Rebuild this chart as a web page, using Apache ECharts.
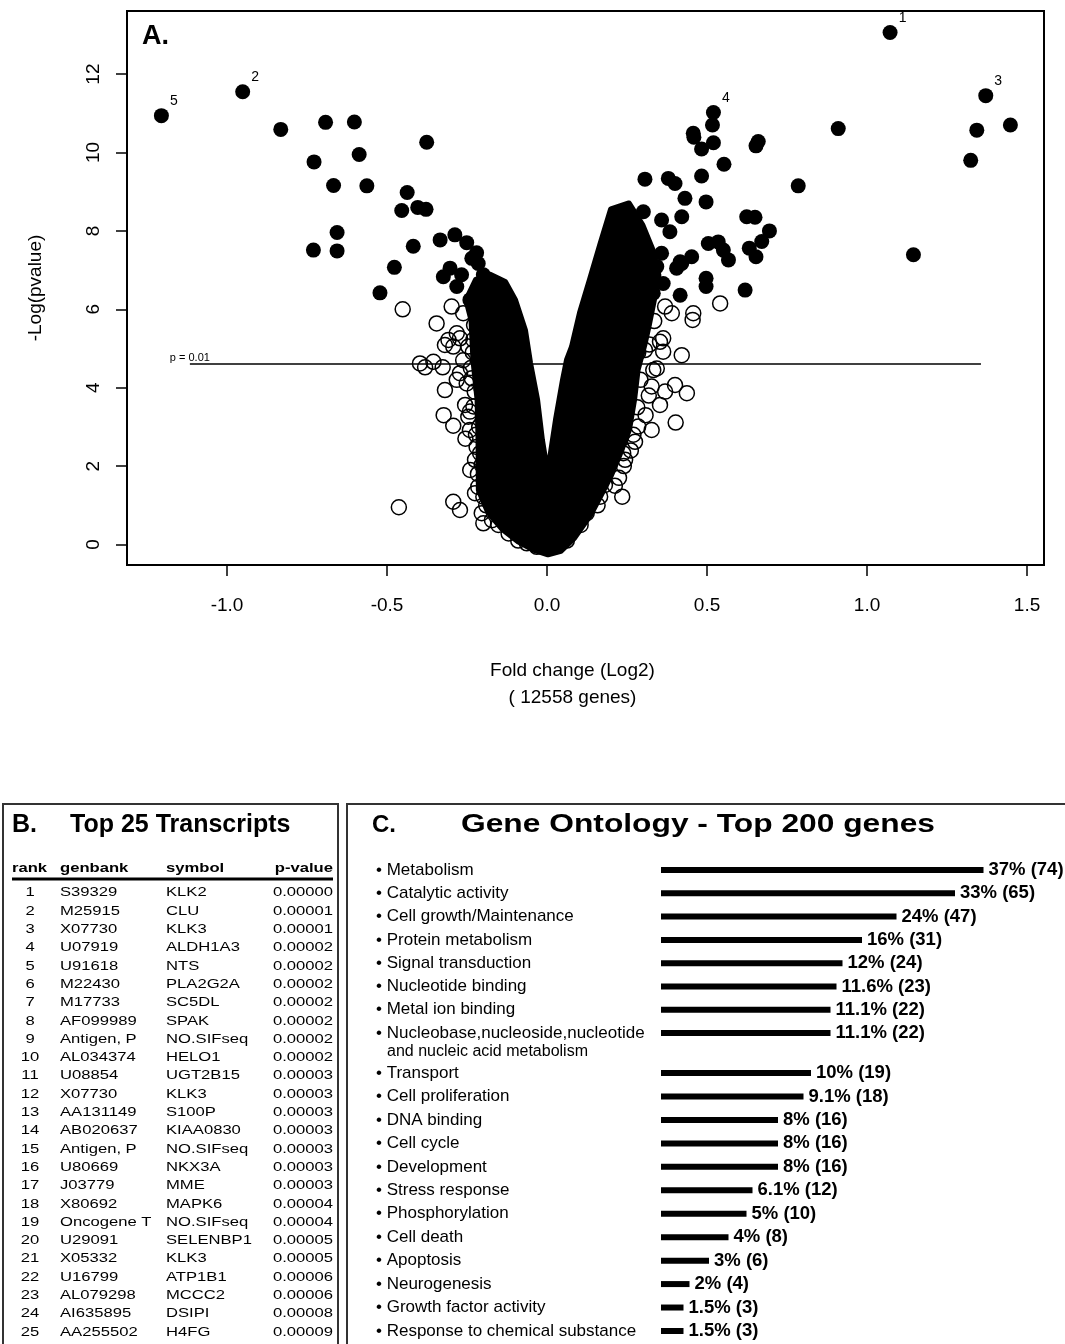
<!DOCTYPE html>
<html>
<head>
<meta charset="utf-8">
<script src="https://cdn.jsdelivr.net/npm/echarts@6/dist/echarts.min.js"></script>
<style>
  html, body { margin: 0; padding: 0; background: #fff; }
  #chart { width: 1065px; height: 1344px; }
</style>
</head>
<body>
<div id="chart"></div>
<script>
// ---- Panel A: volcano plot (log2 fold change vs -ln p) ----
// genes with p < 0.01 (filled)
const sigPoints = [
  [-0.832, 10.59], [-0.692, 10.77], [-0.602, 10.78], [-0.376, 10.26], [-0.728, 9.76], [-0.587, 9.95],
  [-0.667, 9.16], [-0.563, 9.15], [-0.437, 8.98], [-0.454, 8.52], [-0.404, 8.60], [-0.378, 8.55],
  [-0.656, 7.96], [-0.730, 7.51], [-0.656, 7.49], [-0.418, 7.61], [-0.477, 7.07], [-0.522, 6.42],
  [-0.334, 7.77], [-0.288, 7.90], [-0.251, 7.70], [-0.220, 7.44], [-0.235, 7.30], [-0.215, 7.17],
  [-0.199, 6.88], [-0.157, 6.66], [-0.147, 6.58], [-0.303, 7.05], [-0.324, 6.83], [-0.267, 6.88],
  [-0.282, 6.58], [-0.241, 6.24], [-0.209, 6.07], [-0.230, 6.19], [-0.180, 6.50], [-0.160, 6.30],
  [1.343, 10.57], [1.448, 10.70], [1.324, 9.80], [0.910, 10.61], [0.785, 9.15], [1.145, 7.39],
  [0.517, 10.70], [0.457, 10.49], [0.459, 10.39], [0.520, 10.25], [0.483, 10.09], [0.660, 10.28],
  [0.653, 10.17], [0.553, 9.70], [0.306, 9.32], [0.379, 9.34], [0.400, 9.21], [0.483, 9.40],
  [0.431, 8.83], [0.497, 8.74], [0.421, 8.36], [0.624, 8.36], [0.650, 8.35], [0.695, 8.00],
  [0.671, 7.73], [0.632, 7.56], [0.653, 7.34], [0.504, 7.68], [0.535, 7.72], [0.551, 7.51],
  [0.567, 7.26], [0.452, 7.34], [0.416, 7.21], [0.405, 7.05], [0.497, 6.79], [0.497, 6.58],
  [0.619, 6.49], [0.358, 7.43], [0.300, 7.56], [0.238, 8.28], [0.301, 8.49], [0.358, 8.28],
  [0.384, 7.98], [0.270, 7.94], [0.306, 7.51], [0.228, 7.68], [0.207, 7.34], [0.176, 7.09],
  [0.343, 7.09], [0.421, 7.17], [0.363, 6.66], [0.416, 6.36], [0.332, 6.41]
];
// top ranked genes marked with their rank
const rankedPoints = [
  [1.072, 13.06, '1'], [-0.951, 11.55, '2'], [1.371, 11.45, '3'], [0.520, 11.02, '4'], [-1.205, 10.94, '5']
];
// open circles visible around the edge of the dense cloud
const edgePoints = [
  [-0.451, 6.00], [-0.345, 5.64], [-0.298, 6.07], [-0.262, 5.90], [-0.308, 5.22], [-0.282, 5.39],
  [-0.272, 5.26], [-0.319, 5.09], [-0.293, 5.05], [-0.246, 5.05], [-0.230, 5.22], [-0.397, 4.62],
  [-0.355, 4.66], [-0.381, 4.52], [-0.326, 4.52], [-0.272, 4.37], [-0.282, 4.20], [-0.319, 3.94],
  [-0.251, 4.11], [-0.235, 4.24], [-0.256, 3.56], [-0.241, 3.39], [-0.230, 3.52], [-0.246, 3.26],
  [-0.323, 3.30], [-0.293, 3.03], [-0.241, 2.92], [-0.220, 2.49], [-0.225, 2.16], [-0.204, 2.03],
  [-0.209, 2.33], [-0.215, 1.47], [-0.225, 1.31], [-0.199, 1.22], [-0.293, 1.09], [-0.272, 0.88],
  [-0.463, 0.95], [-0.204, 0.80], [-0.199, 0.54], [-0.152, 0.50], [-0.063, 0.03], [-0.032, -0.06],
  [-0.228, 5.60], [-0.232, 4.90], [-0.226, 3.90], [-0.222, 2.80], [-0.216, 1.80], [-0.190, 1.00],
  [-0.172, 0.62], [-0.120, 0.28], [-0.090, 0.10], [-0.262, 4.70], [-0.255, 2.70], [-0.240, 1.90],
  [-0.238, 4.50], [-0.212, 3.00], [-0.205, 4.00],
  [0.541, 6.15], [0.457, 5.90], [0.455, 5.73], [0.390, 5.90], [0.369, 6.07], [0.363, 5.26],
  [0.353, 5.17], [0.421, 4.83], [0.363, 4.92], [0.332, 4.45], [0.343, 4.49], [0.400, 4.07],
  [0.437, 3.86], [0.369, 3.90], [0.353, 3.56], [0.327, 4.03], [0.402, 3.11], [0.327, 2.92],
  [0.285, 3.01], [0.275, 2.62], [0.244, 2.16], [0.238, 2.33], [0.235, 1.22], [0.166, 1.22],
  [0.181, 1.52], [0.124, 0.80], [0.291, 5.34], [0.306, 4.96], [0.300, 5.60],
  [0.285, 4.90], [0.292, 4.20], [0.282, 3.50], [0.270, 2.80], [0.240, 2.00], [0.212, 1.50],
  [0.158, 1.00], [0.105, 0.50], [0.062, 0.10], [0.318, 3.80], [0.308, 3.30], [0.225, 1.70],
  [0.320, 5.10], [0.335, 5.70], [0.262, 2.40]
];
// outline of the solid black core where thousands of points overlap
const coreOutline = [
  [-0.252, 6.24], [-0.236, 5.73], [-0.230, 4.71], [-0.217, 3.69], [-0.214, 2.67], [-0.213, 1.39],
  [-0.184, 0.83], [-0.140, 0.40], [-0.090, 0.08], [-0.040, -0.14], [0.003, -0.25], [0.043, -0.16],
  [0.085, 0.17], [0.135, 0.75], [0.168, 1.26], [0.200, 1.77], [0.226, 2.28], [0.256, 2.92],
  [0.272, 3.69], [0.283, 4.45], [0.304, 5.09], [0.318, 5.60], [0.334, 6.24], [0.348, 6.87],
  [0.330, 7.51], [0.298, 8.15], [0.256, 8.70], [0.200, 8.55], [0.166, 7.64], [0.134, 6.75],
  [0.103, 5.91], [0.078, 5.04], [0.0625, 4.71], [0.050, 4.20], [0.028, 3.18], [0.009, 2.16],
  [0.003, 1.72], [-0.016, 2.67], [-0.031, 3.69], [-0.053, 4.63], [-0.069, 5.47], [-0.100, 6.24],
  [-0.131, 6.70], [-0.178, 6.88], [-0.222, 6.75]
];
const xTicks = [-1, -0.5, 0, 0.5, 1, 1.5];
const yTicks = [0, 2, 4, 6, 8, 10, 12];
const pCutoff = 0.01;
const cutoffSpan = [-1.116, 1.356];
const geneCount = 12558;

// ---- Panel B: top 25 transcripts ----
const genbank = ['S39329', 'M25915', 'X07730', 'U07919', 'U91618', 'M22430', 'M17733', 'AF099989',
  'Antigen, P', 'AL034374', 'U08854', 'X07730', 'AA131149', 'AB020637', 'Antigen, P', 'U80669',
  'J03779', 'X80692', 'Oncogene T', 'U29091', 'X05332', 'U16799', 'AL079298', 'AI635895', 'AA255502'];
const symbols = ['KLK2', 'CLU', 'KLK3', 'ALDH1A3', 'NTS', 'PLA2G2A', 'SC5DL', 'SPAK', 'NO.SIFseq',
  'HELO1', 'UGT2B15', 'KLK3', 'S100P', 'KIAA0830', 'NO.SIFseq', 'NKX3A', 'MME', 'MAPK6', 'NO.SIFseq',
  'SELENBP1', 'KLK3', 'ATP1B1', 'MCCC2', 'DSIPI', 'H4FG'];
const pValues = ['0.00000', '0.00001', '0.00001', '0.00002', '0.00002', '0.00002', '0.00002', '0.00002',
  '0.00002', '0.00002', '0.00003', '0.00003', '0.00003', '0.00003', '0.00003', '0.00003', '0.00003',
  '0.00004', '0.00004', '0.00005', '0.00005', '0.00006', '0.00006', '0.00008', '0.00009'];
const tableHeader = ['rank', 'genbank', 'symbol', 'p-value'];

// ---- Panel C: gene ontology of top 200 genes ----
const goTerms = ['Metabolism', 'Catalytic activity', 'Cell growth/Maintenance', 'Protein metabolism',
  'Signal transduction', 'Nucleotide binding', 'Metal ion binding',
  'Nucleobase,nucleoside,nucleotide\nand nucleic acid metabolism',
  'Transport', 'Cell proliferation', 'DNA binding', 'Cell cycle', 'Development', 'Stress response',
  'Phosphorylation', 'Cell death', 'Apoptosis', 'Neurogenesis', 'Growth factor activity',
  'Response to chemical substance'];
const goPercent = ['37%', '33%', '24%', '16%', '12%', '11.6%', '11.1%', '11.1%', '10%', '9.1%', '8%', '8%',
  '8%', '6.1%', '5%', '4%', '3%', '2%', '1.5%', '1.5%'];
const goCount = [74, 65, 47, 31, 24, 23, 22, 22, 19, 18, 16, 16, 16, 12, 10, 8, 6, 4, 3, 3];
// bar lengths as drawn in the figure (percent scale, compressed for the longest bars)
const goBarLength = [21.5, 19.6, 15.7, 13.4, 12.1, 11.7, 11.3, 11.3, 10.0, 9.5, 7.8, 7.8, 7.8, 6.1,
  5.7, 4.5, 3.2, 1.9, 1.5, 1.5];

const FONT = 'Liberation Sans, Arial, Helvetica, sans-serif';
const chart = echarts.init(document.getElementById('chart'), null, { renderer: 'canvas' });

const cutoffY = -Math.log(pCutoff);

// graphic pieces for the panel frames and the table
const graphics = [];
function text(x, y, str, o) {
  o = o || {};
  return {
    type: 'text', x: x, y: y, scaleX: o.scaleX || 1, z: 10,
    style: {
      text: str, fill: '#000', fontFamily: FONT, fontSize: o.size || 12.5,
      fontWeight: o.weight || 'normal', align: o.align || 'left', verticalAlign: 'middle',
      textAlign: o.align || 'left', textVerticalAlign: 'middle'
    }
  };
}
graphics.push(text(142, 37, 'A.', { size: 27, weight: 'bold' }));
graphics.push({ type: 'rect', shape: { x: 3, y: 804, width: 335, height: 620 }, style: { fill: 'none', stroke: '#333', lineWidth: 2 } });
graphics.push({ type: 'rect', shape: { x: 347, y: 804, width: 760, height: 620 }, style: { fill: 'none', stroke: '#333', lineWidth: 2 } });
graphics.push(text(12, 825, 'B.', { size: 25, weight: 'bold' }));
graphics.push(text(70, 825, 'Top 25 Transcripts', { size: 25, weight: 'bold' }));
graphics.push(text(372, 825, 'C.', { size: 24, weight: 'bold' }));
graphics.push(text(461, 825, 'Gene Ontology - Top 200 genes', { size: 25, weight: 'bold', scaleX: 1.27 }));

const colX = [12, 60, 166, 333];
const colAlign = ['left', 'left', 'left', 'right'];
tableHeader.forEach((h, i) => {
  graphics.push(text(colX[i], 869, h, { weight: 'bold', align: colAlign[i], scaleX: 1.33 }));
});
graphics.push({ type: 'rect', shape: { x: 12, y: 877.5, width: 321, height: 3 }, style: { fill: '#000' } });
genbank.forEach((gb, i) => {
  const y = 893 + i * 18.3;
  graphics.push(text(30, y, String(i + 1), { align: 'center', scaleX: 1.33 }));
  graphics.push(text(colX[1], y, gb, { scaleX: 1.33 }));
  graphics.push(text(colX[2], y, symbols[i], { scaleX: 1.33 }));
  graphics.push(text(colX[3], y, pValues[i], { align: 'right', scaleX: 1.33 }));
});

const catLabel = {
  align: 'left', margin: 285, interval: 0,
  formatter: (v) => {
    const parts = v.split('\n');
    if (parts.length > 1) return '{g|}\n{m|\u2022 ' + parts[0] + '}\n{s|' + parts[1] + '}';
    return '{m|\u2022 ' + v + '}';
  },
  rich: {
    m: { fontSize: 17, lineHeight: 20, fontFamily: FONT, color: '#000' },
    s: { fontSize: 16, lineHeight: 17, fontFamily: FONT, color: '#000', padding: [0, 0, 0, 11] },
    g: { fontSize: 1, lineHeight: 17 }
  }
};
function goBars(from, to, axisIdx) {
  return {
    type: 'bar', xAxisIndex: axisIdx, yAxisIndex: axisIdx,
    data: goBarLength.slice(from, to), barWidth: 6,
    itemStyle: { color: '#000' },
    label: {
      show: true, position: 'right', distance: 5, color: '#000', fontFamily: FONT,
      fontSize: 18.5, fontWeight: 'bold',
      formatter: (p) => goPercent[from + p.dataIndex] + ' (' + goCount[from + p.dataIndex] + ')'
    },
    animation: false
  };
}

const option = {
  backgroundColor: '#fff',
  animation: false,
  textStyle: { fontFamily: FONT },
  graphic: graphics,
  grid: [
    { left: 127, top: 11, width: 917, height: 554, show: true, borderColor: '#000', borderWidth: 2, backgroundColor: 'transparent', outerBoundsMode: 'none' },
    { left: 661, top: 858.4, width: 390, height: 186.3, outerBoundsMode: 'none' },
    { left: 661, top: 1061.3, width: 390, height: 281.4, outerBoundsMode: 'none' }
  ],
  xAxis: [
    {
      gridIndex: 0, type: 'value', min: -1.3125, max: 1.553,
      splitLine: { show: false }, axisLine: { show: false, onZero: false },
      axisTick: { show: true, customValues: xTicks, length: 11, lineStyle: { color: '#000', width: 1.5 } },
      axisLabel: { customValues: xTicks, formatter: (v) => v.toFixed(1), fontSize: 19, color: '#000', margin: 31, fontFamily: FONT },
      name: 'Fold change (Log2)\n( ' + geneCount + ' genes)', nameLocation: 'middle', nameGap: 92,
      nameTextStyle: { fontSize: 19, lineHeight: 27, color: '#000', fontFamily: FONT, padding: [0, 26, 0, 0] }
    },
    { gridIndex: 1, type: 'value', min: 0, max: 26, show: false },
    { gridIndex: 2, type: 'value', min: 0, max: 26, show: false }
  ],
  yAxis: [
    {
      gridIndex: 0, type: 'value', min: -0.523, max: 13.61,
      splitLine: { show: false }, axisLine: { show: false, onZero: false },
      axisTick: { show: true, customValues: yTicks, length: 11, lineStyle: { color: '#000', width: 1.5 } },
      axisLabel: { customValues: yTicks, rotate: 90, fontSize: 19, color: '#000', margin: 24, fontFamily: FONT },
      name: '-Log(pvalue)', nameLocation: 'middle', nameGap: 82, nameRotate: 90,
      nameTextStyle: { fontSize: 19, color: '#000', fontFamily: FONT }
    },
    {
      gridIndex: 1, type: 'category', inverse: true, data: goTerms.slice(0, 8),
      axisLine: { show: false }, axisTick: { show: false }, axisLabel: catLabel
    },
    {
      gridIndex: 2, type: 'category', inverse: true, data: goTerms.slice(8),
      axisLine: { show: false }, axisTick: { show: false }, axisLabel: catLabel
    }
  ],
  series: [
    {
      type: 'custom', xAxisIndex: 0, yAxisIndex: 0, data: coreOutline, z: 1,
      renderItem: (params, api) => {
        if (params.dataIndex !== 0) return null;
        const pts = coreOutline.map((p) => api.coord(p));
        return {
          type: 'polygon', shape: { points: pts },
          style: { fill: '#000', stroke: '#000', lineWidth: 6, lineJoin: 'round' }
        };
      }
    },
    {
      type: 'scatter', xAxisIndex: 0, yAxisIndex: 0, data: edgePoints, symbolSize: 15, z: 2,
      itemStyle: { color: 'rgba(0,0,0,0)', borderColor: '#000', borderWidth: 1.5, opacity: 1 }
    },
    {
      type: 'scatter', xAxisIndex: 0, yAxisIndex: 0, data: sigPoints, symbolSize: 15, z: 3,
      itemStyle: { color: '#000', opacity: 1 }
    },
    {
      type: 'scatter', xAxisIndex: 0, yAxisIndex: 0, z: 3,
      data: rankedPoints.map((p) => [p[0], p[1]]), symbolSize: 15,
      itemStyle: { color: '#000', opacity: 1 },
      label: {
        show: true, position: [20, -7], align: 'center', verticalAlign: 'middle',
        fontSize: 14, color: '#000', fontFamily: FONT,
        formatter: (p) => rankedPoints[p.dataIndex][2]
      }
    },
    {
      type: 'line', xAxisIndex: 0, yAxisIndex: 0, z: 4,
      data: [
        { value: [cutoffSpan[0], cutoffY], label: { show: true, position: 'top', distance: 1, formatter: 'p = ' + pCutoff, fontSize: 11, color: '#000', fontFamily: FONT } },
        [cutoffSpan[1], cutoffY]
      ],
      symbol: 'circle', symbolSize: 0, showSymbol: true,
      lineStyle: { color: '#000', width: 1.5 }
    },
    goBars(0, 8, 1),
    goBars(8, 20, 2)
  ]
};
chart.setOption(option);
</script>
</body>
</html>
